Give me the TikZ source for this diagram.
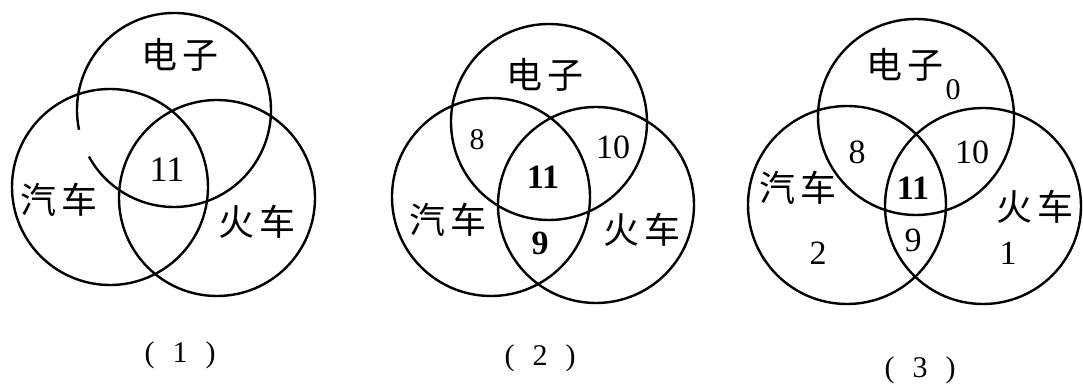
\documentclass[tikz,border=0pt]{standalone}
\usepackage{fontspec}
\setmainfont{Liberation Serif}
\newfontfamily\cjk{Noto Sans CJK SC}
\newcommand\twochars[2]{#1\hspace{0.12em}#2}
\begin{document}
\begin{tikzpicture}[x=0.5pt, y=-0.5pt, line width=1.2pt,
	lbl/.style={font=\cjk\fontsize{18}{18}\selectfont, inner sep=0pt},
	num/.style={font=\fontsize{17}{17}\selectfont, inner sep=0pt},
	sml/.style={font=\fontsize{15}{15}\selectfont, inner sep=0pt},
	captxt/.style={font=\fontsize{15}{15}\selectfont, inner sep=0pt}]
	\useasboundingbox (0,0) rectangle (1083,389);
	% (1): the top circle is left open at its lower left
	\coordinate (top1) at (174,110);
	\coordinate (left1) at (110,187);
	\coordinate (right1) at (217,198);
	\draw (top1) ++(168.2:97) arc (168.2:511.3:97);
	\draw (left1) circle (98) (right1) circle (98);
	\node[lbl] (dz1) at (180,55) {\twochars{电}{子}};
	\node[lbl] (qc1) at (59,200) {\twochars{汽}{车}};
	\node[lbl] (hc1) at (257,222) {\twochars{火}{车}};
	\node[num, font=\fontsize{18}{18}\selectfont] (all1) at (167,170) {11};
	\node[captxt] (cap1) at (180,355) {(\hspace{0.6em}1\hspace{0.6em})};
	% (2) and (3)
	\foreach \n/\tx/\ty/\lx/\ly/\rx/\ry in {2/549/122/491/197/596/205, 3/916/117/847/205/983/206} {
		\coordinate (top\n) at (\tx,\ty);
		\coordinate (left\n) at (\lx,\ly);
		\coordinate (right\n) at (\rx,\ry);
		\draw (top\n) circle (98) (left\n) circle (99) (right\n) circle (98);
	}
	\node[lbl] (dz2) at (545,75) {\twochars{电}{子}};
	\node[lbl] (qc2) at (448,220) {\twochars{汽}{车}};
	\node[lbl] (hc2) at (642,230) {\twochars{火}{车}};
	\node[sml] (dq2) at (477,140) {8};
	\node[num] (dh2) at (613,147) {10};
	\node[num, font=\fontsize{17}{17}\selectfont\bfseries] (all2) at (543,177) {11};
	\node[num, font=\fontsize{17}{17}\selectfont\bfseries] (qh2) at (540,243) {9};
	\node[captxt] (cap2) at (540,358) {(\hspace{0.6em}2\hspace{0.6em})};
	\node[lbl] (dz3) at (905,65) {\twochars{电}{子}};
	\node[lbl] (qc3) at (798,188) {\twochars{汽}{车}};
	\node[lbl] (hc3) at (1035,207) {\twochars{火}{车}};
	\node[sml] (d3) at (953,90) {0};
	\node[num] (dq3) at (857,152) {8};
	\node[num] (dh3) at (972,152) {10};
	\node[num, font=\fontsize{17}{17}\selectfont\bfseries] (all3) at (913,188) {11};
	\node[num] (qh3) at (913,240) {9};
	\node[num] (q3) at (818,253) {2};
	\node[num] (h3) at (1008,253) {1};
	\node[captxt] (cap3) at (920,370) {(\hspace{0.6em}3\hspace{0.6em})};
\end{tikzpicture}
\end{document}
